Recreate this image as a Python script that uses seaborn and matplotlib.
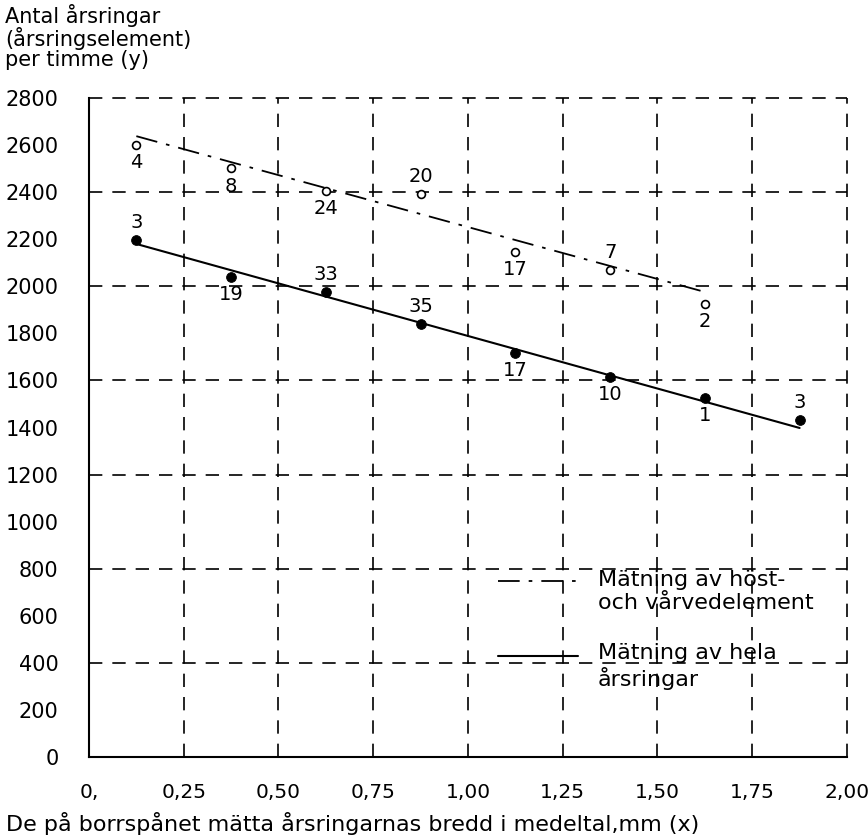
import numpy as np
import pandas as pd
import matplotlib
matplotlib.use("Agg")
import matplotlib.pyplot as plt
import seaborn as sns
from matplotlib.lines import Line2D
from matplotlib.legend_handler import HandlerLine2D

# Class midpoints of ring width (mm)
x_host = [0.125, 0.375, 0.625, 0.875, 1.125, 1.375, 1.625]
y_host = [2600, 2502, 2405, 2392, 2146, 2069, 1925]
n_host = ["4", "8", "24", "20", "17", "7", "2"]
above_host = [False, False, False, True, False, True, False]

x_hela = [0.125, 0.375, 0.625, 0.875, 1.125, 1.375, 1.625, 1.875]
y_hela = [2197, 2039, 1976, 1840, 1716, 1615, 1525, 1432]
n_hela = ["3", "19", "33", "35", "17", "10", "1", "3"]
above_hela = [True, False, True, True, False, False, False, True]

# Fitted lines (end points)
fit_host_x = [0.125, 1.625]
fit_host_y = [2638, 1976]
fit_hela_x = [0.125, 1.875]
fit_hela_y = [2180, 1398]

x_ticks = [0, 0.25, 0.5, 0.75, 1.0, 1.25, 1.5, 1.75, 2.0]
x_ticklabels = ["0,", "0,25", "0,50", "0,75", "1,00", "1,25", "1,50", "1,75", "2,00"]
y_ticks = list(range(0, 2801, 200))
grid_y = [400, 800, 1200, 1600, 2000, 2400, 2800]

label_host = "Mätning av höst-\noch vårvedelement"
label_hela = "Mätning av hela\nårsringar"


class FirstLineHandler(HandlerLine2D):
    """Put the legend sample level with the first line of a two-line label."""
    def create_artists(self, legend, orig_handle, xdescent, ydescent,
                       width, height, fontsize, trans):
        return super().create_artists(legend, orig_handle, xdescent,
                                      ydescent - 1.0 * fontsize, width, height,
                                      fontsize, trans)


sns.set_style("white")
plt.rcParams['font.family'] = ['DejaVu Sans']
plt.rcParams['text.color'] = 'black'
plt.rcParams['axes.labelcolor'] = 'black'
plt.rcParams['xtick.color'] = 'black'
plt.rcParams['ytick.color'] = 'black'

fig = plt.figure(figsize=(8.68, 8.38), dpi=100)
ax = fig.add_axes([0.1025, 0.0967, 0.8733, 0.7863])

# dashed grid
for gx in x_ticks[1:]:
    ax.axvline(gx, color="black", lw=1.2, ls=(0, (8, 6)), zorder=1, clip_on=False)
for gy in grid_y:
    ax.axhline(gy, color="black", lw=1.2, ls=(0, (8, 6)), zorder=1, clip_on=False)

df_host = pd.DataFrame({"x": x_host, "y": y_host})
df_hela = pd.DataFrame({"x": x_hela, "y": y_hela})

sns.lineplot(x=fit_host_x, y=fit_host_y, ax=ax, color="black", lw=1.3,
             linestyle=(0, (12, 5, 2, 5)), label=label_host, zorder=3)
sns.lineplot(x=fit_hela_x, y=fit_hela_y, ax=ax, color="black", lw=1.5,
             label=label_hela, zorder=3)
sns.scatterplot(data=df_host, x="x", y="y", ax=ax, marker="o", s=32,
                facecolor="white", edgecolor="black", linewidth=1.2, zorder=4)
sns.scatterplot(data=df_hela, x="x", y="y", ax=ax, marker="o", s=50,
                color="black", edgecolor="black", zorder=4)

for xs, ys, ns, ab in [(x_host, y_host, n_host, above_host),
                       (x_hela, y_hela, n_hela, above_hela)]:
    for xv, yv, nv, a in zip(xs, ys, ns, ab):
        ax.annotate(nv, (xv, yv), xytext=(0, 6 if a else -6),
                    textcoords="offset points", ha="center",
                    va="bottom" if a else "top", fontsize=14)

ax.set_xlim(0, 2.0)
ax.set_ylim(0, 2800)
ax.set_xticks(x_ticks)
ax.set_xticklabels(x_ticklabels, fontsize=14.5)
ax.set_yticks(y_ticks)
ax.set_yticklabels([str(v) for v in y_ticks], fontsize=15)
ax.tick_params(axis="y", direction="out", length=8, width=1.3, pad=14)
ax.tick_params(axis="x", direction="inout", length=10, width=1.0, pad=14)

sns.despine(ax=ax, top=True, right=True)
ax.spines["left"].set_linewidth(1.5)
ax.spines["bottom"].set_linewidth(1.5)
ax.spines["left"].set_color("black")
ax.spines["bottom"].set_color("black")

ax.set_xlabel("De på borrspånet mätta årsringarnas bredd i medeltal,mm (x)",
              fontsize=16, loc="left")
ax.xaxis.set_label_coords(-0.11, -0.083, transform=ax.transAxes)
ax.set_ylabel("")
fig.text(0.006, 0.995, "Antal årsringar\n(årsringselement)\nper timme (y)",
         ha="left", va="top", fontsize=15, linespacing=1.0)

ax.legend(loc="upper left", bbox_to_anchor=(0.528, 0.297), frameon=False,
          fontsize=16, handlelength=3.6, labelspacing=1.35, handletextpad=0.9,
          borderaxespad=0, handler_map={Line2D: FirstLineHandler()})

fig.savefig("out.png", dpi=100, facecolor="white")
